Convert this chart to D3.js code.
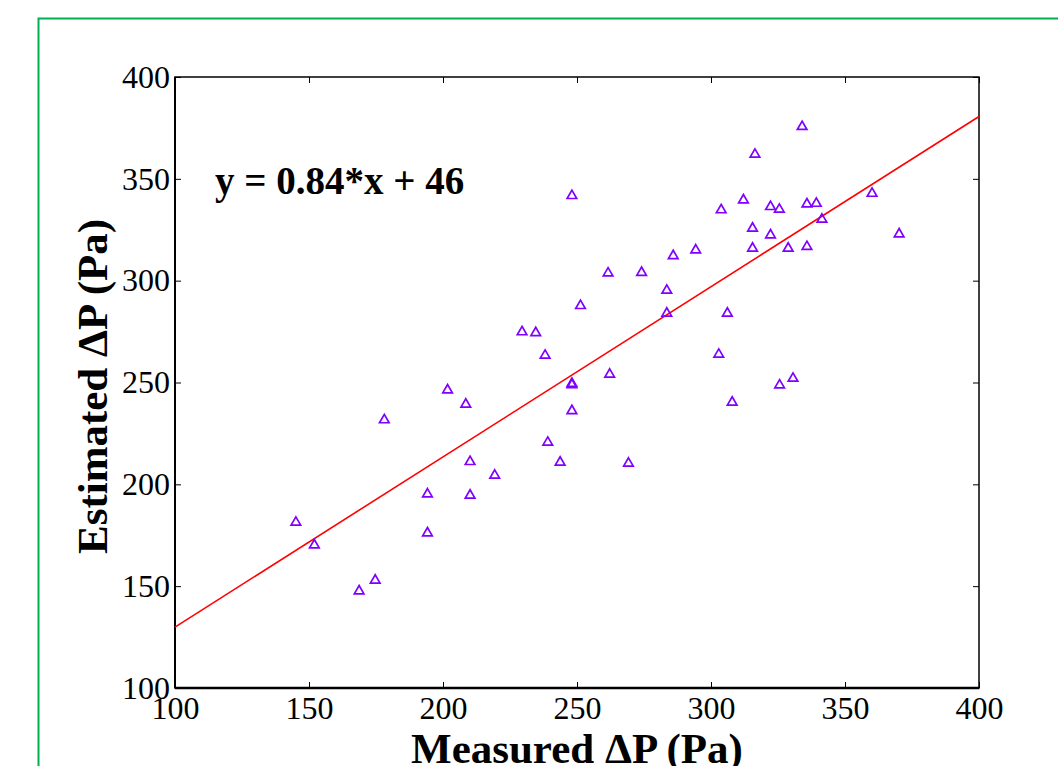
<!DOCTYPE html>
<html><head><meta charset="utf-8">
<script src="https://cdn.jsdelivr.net/npm/d3@7"></script>
<style>body{margin:0;background:#fff;} svg{display:block;}</style>
</head><body>
<script>
const measured = [145.1,152.0,168.7,174.7,178.1,194.2,194.2,201.7,208.5,210.1,210.1,219.3,229.5,234.6,238.1,239.1,243.7,248.1,248.1,248.1,248.1,251.3,261.6,262.2,269.2,274.1,283.5,283.5,285.9,294.3,302.9,303.8,306.1,307.9,312.1,315.5,315.5,316.4,322.2,322.2,325.5,325.6,328.8,330.6,334.0,335.8,335.8,339.3,341.4,360.1,370.2];
const estimated = [181.3,170.2,147.6,152.9,231.6,195.2,176.1,246.3,239.3,211.1,194.6,204.4,274.8,274.4,263.3,220.6,210.8,341.7,249.5,248.8,236.1,287.7,303.7,254.0,210.3,304.0,295.2,284.0,312.2,315.0,263.8,334.7,284.0,240.3,339.6,325.7,315.9,362.0,336.3,322.4,335.0,248.7,315.9,252.0,375.6,337.6,316.7,337.9,330.1,342.8,322.9];
const fitX = [100, 400];
const fitY = [129.9, 380.6];
const xTicks = [100,150,200,250,300,350,400];
const yTicks = [100,150,200,250,300,350,400];
const equationLabel = "y = 0.84*x + 46";
const xTitle = "Measured \u0394P (Pa)";
const yTitle = "Estimated \u0394P (Pa)";

const W = 1058, H = 766;
const L = 175, R = 979, T = 77, B = 688;
const svg = d3.select("body").append("svg").attr("width", W).attr("height", H);

svg.append("rect").attr("x", 38.5).attr("y", 18.5).attr("width", 1100).attr("height", 800)
  .attr("fill", "none").attr("stroke", "#00b050").attr("stroke-width", 2);

const x = d3.scaleLinear().domain([100, 400]).range([L, R]);
const y = d3.scaleLinear().domain([100, 400]).range([B, T]);
const font = "'Liberation Serif','Times New Roman',serif";

// frame
svg.append("rect").attr("x", L).attr("y", T).attr("width", R - L).attr("height", B - T)
  .attr("fill", "none").attr("stroke", "#000").attr("stroke-width", 1.5);
svg.append("line").attr("x1", L).attr("x2", L).attr("y1", T).attr("y2", B).attr("stroke", "#000").attr("stroke-width", 2);
svg.append("line").attr("x1", L).attr("x2", R).attr("y1", B).attr("y2", B).attr("stroke", "#000").attr("stroke-width", 2.5);

// axes
const xa = svg.append("g").attr("transform", `translate(0,${B})`)
  .call(d3.axisBottom(x).tickValues(xTicks).tickSizeInner(-6).tickSizeOuter(0).tickPadding(8));
const ya = svg.append("g").attr("transform", `translate(${L},0)`)
  .call(d3.axisLeft(y).tickValues(yTicks).tickSizeInner(-6).tickSizeOuter(0).tickPadding(5));
const xt = svg.append("g").attr("transform", `translate(0,${T})`)
  .call(d3.axisTop(x).tickValues(xTicks).tickSizeInner(-6).tickSizeOuter(0).tickFormat(""));
const yr = svg.append("g").attr("transform", `translate(${R},0)`)
  .call(d3.axisRight(y).tickValues(yTicks).tickSizeInner(-6).tickSizeOuter(0).tickFormat(""));
[xa, ya, xt, yr].forEach(g => {
  g.select(".domain").remove();
  g.selectAll(".tick line").attr("stroke", "#000").attr("stroke-width", 1);
  g.selectAll("text").attr("font-family", font).attr("font-size", 32).attr("fill", "#000");
});
xa.selectAll("text").attr("dy", "0.71em");

// fit line
svg.append("line").attr("x1", x(fitX[0])).attr("y1", y(fitY[0])).attr("x2", x(fitX[1])).attr("y2", y(fitY[1]))
  .attr("stroke", "#ff0000").attr("stroke-width", 1.6);

// points
const tri = d3.symbol().type(d3.symbolTriangle).size(40);
svg.append("g").selectAll("path").data(measured.map((m, i) => [m, estimated[i]])).join("path")
  .attr("d", tri).attr("transform", d => `translate(${x(d[0])},${y(d[1])})`)
  .attr("fill", "none").attr("stroke", "#7f00ff").attr("stroke-width", 1.7);

// equation
svg.append("text").attr("x", 215).attr("y", 194).attr("font-family", font).attr("font-weight", "bold")
  .attr("font-size", 39).attr("fill", "#000").text(equationLabel);

// titles
svg.append("text").attr("x", (L + R) / 2).attr("y", 763).attr("text-anchor", "middle")
  .attr("font-family", font).attr("font-weight", "bold").attr("font-size", 43).attr("fill", "#000").text(xTitle);
svg.append("text").attr("transform", `translate(107,${(T + B) / 2 + 4}) rotate(-90)`).attr("text-anchor", "middle")
  .attr("font-family", font).attr("font-weight", "bold").attr("font-size", 43).attr("fill", "#000").text(yTitle);
</script>
</body></html>
